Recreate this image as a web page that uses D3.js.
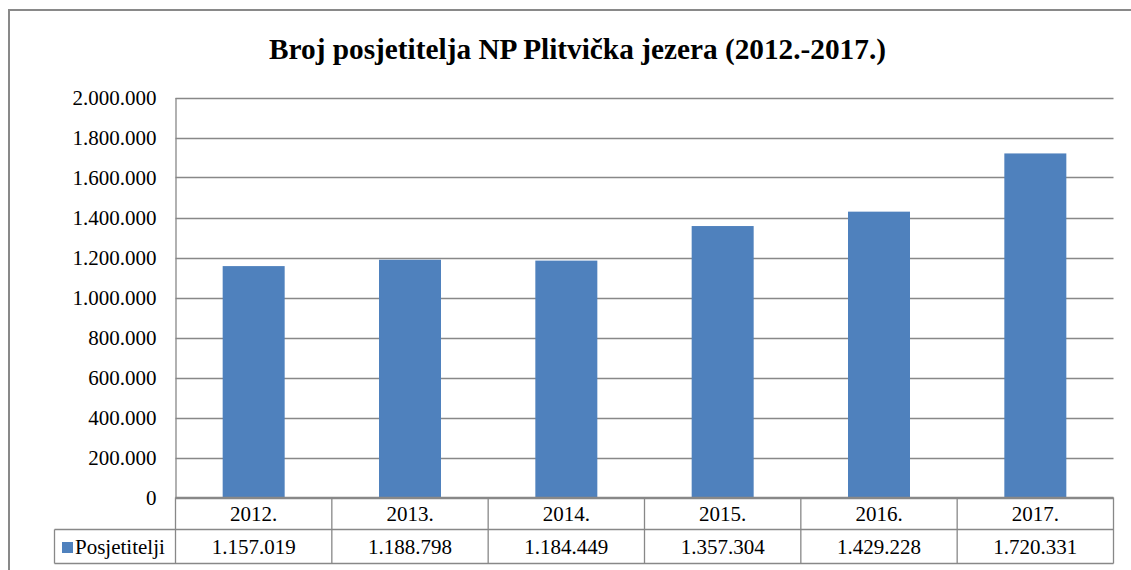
<!DOCTYPE html>
<html><head><meta charset="utf-8">
<script src="https://cdn.jsdelivr.net/npm/d3@7"></script>
<style>body{margin:0;background:#fff;}svg{display:block;}</style>
</head><body>
<script>
const title = "Broj posjetitelja NP Plitvička jezera (2012.-2017.)";
const categories = ["2012.", "2013.", "2014.", "2015.", "2016.", "2017."];
const seriesName = "Posjetitelji";
const values = [1157019, 1188798, 1184449, 1357304, 1429228, 1720331];
const yTicks = [0, 200000, 400000, 600000, 800000, 1000000, 1200000, 1400000, 1600000, 1800000, 2000000];

const W = 1131, H = 570;
const font = "'Liberation Serif','Times New Roman',serif";
const fmt = v => d3.format(",")(v).replace(/,/g, ".");
const svg = d3.select("body").append("svg").attr("width", W).attr("height", H);

// outer frame
svg.append("rect").attr("x", 9).attr("y", 10).attr("width", 1140).attr("height", 600)
  .attr("fill", "none").attr("stroke", "#898989").attr("stroke-width", 2);

svg.append("text").attr("x", 577.5).attr("y", 58.5).attr("text-anchor", "middle")
  .attr("font-family", font).attr("font-weight", "bold").attr("font-size", 29.3)
  .attr("fill", "#000").text(title);

const L = 175.5, R = 1113.5, T = 97.5, B = 497.5;
const x = d3.scaleBand().domain(categories).range([L, R]).paddingInner(0).paddingOuter(0);
const y = d3.scaleLinear().domain([0, 2000000]).range([B, T]);

// gridlines
const grid = svg.append("g").attr("class", "grid");
grid.selectAll("line").data(yTicks).join("line")
  .attr("x1", L).attr("x2", R).attr("y1", d => Math.round(y(d)) + 0.5).attr("y2", d => Math.round(y(d)) + 0.5)
  .attr("stroke", "#888").attr("stroke-width", 1.3);

// y axis
const yAxis = d3.axisLeft(y).tickValues(yTicks).tickFormat(fmt).tickSize(0).tickPadding(19);
const ya = svg.append("g").attr("transform", `translate(${L},0)`).call(yAxis)
  .attr("font-family", font).attr("font-size", 21);
ya.select(".domain").attr("stroke", "#888").attr("stroke-width", 1.3);
ya.selectAll("text").attr("font-family", font).attr("font-size", 21).attr("fill", "#000").attr("dy", "0.32em");

// bars
const bw = 62;
svg.append("g").selectAll("rect").data(values).join("rect")
  .attr("x", (d, i) => x(categories[i]) + x.bandwidth() / 2 - bw / 2)
  .attr("width", bw)
  .attr("y", d => y(d))
  .attr("height", d => B - y(d))
  .attr("fill", "#4F81BD");

// data table
const rowTop = B, row1B = 529.5, row2B = 563.5, legL = 54.5;
const tbl = svg.append("g").attr("stroke", "#888").attr("stroke-width", 1.3).attr("fill", "none");
tbl.append("line").attr("x1", L).attr("x2", R).attr("y1", rowTop).attr("y2", rowTop);
tbl.append("line").attr("x1", legL).attr("x2", R).attr("y1", row1B).attr("y2", row1B);
tbl.append("line").attr("x1", legL).attr("x2", R).attr("y1", row2B).attr("y2", row2B);
tbl.append("line").attr("x1", legL).attr("x2", legL).attr("y1", row1B).attr("y2", row2B);
const bounds = categories.map(c => x(c)).concat([R]);
tbl.selectAll("line.v").data(bounds).join("line").attr("class", "v")
  .attr("x1", d => d).attr("x2", d => d).attr("y1", rowTop).attr("y2", row2B);

svg.append("g").selectAll("text").data(categories).join("text")
  .attr("x", d => x(d) + x.bandwidth() / 2).attr("y", (rowTop + row1B) / 2).attr("dy", "0.35em")
  .attr("text-anchor", "middle").attr("font-family", font).attr("font-size", 21).attr("fill", "#000")
  .text(d => d);
svg.append("g").selectAll("text").data(values).join("text")
  .attr("x", (d, i) => x(categories[i]) + x.bandwidth() / 2).attr("y", (row1B + row2B) / 2).attr("dy", "0.35em")
  .attr("text-anchor", "middle").attr("font-family", font).attr("font-size", 21).attr("fill", "#000")
  .text(d => fmt(d));

svg.append("rect").attr("x", 62).attr("y", 542).attr("width", 11).attr("height", 11).attr("fill", "#4F81BD");
svg.append("text").attr("x", 75).attr("y", (row1B + row2B) / 2).attr("dy", "0.35em")
  .attr("font-family", font).attr("font-size", 21).attr("fill", "#000").text(seriesName);
</script>
</body></html>
